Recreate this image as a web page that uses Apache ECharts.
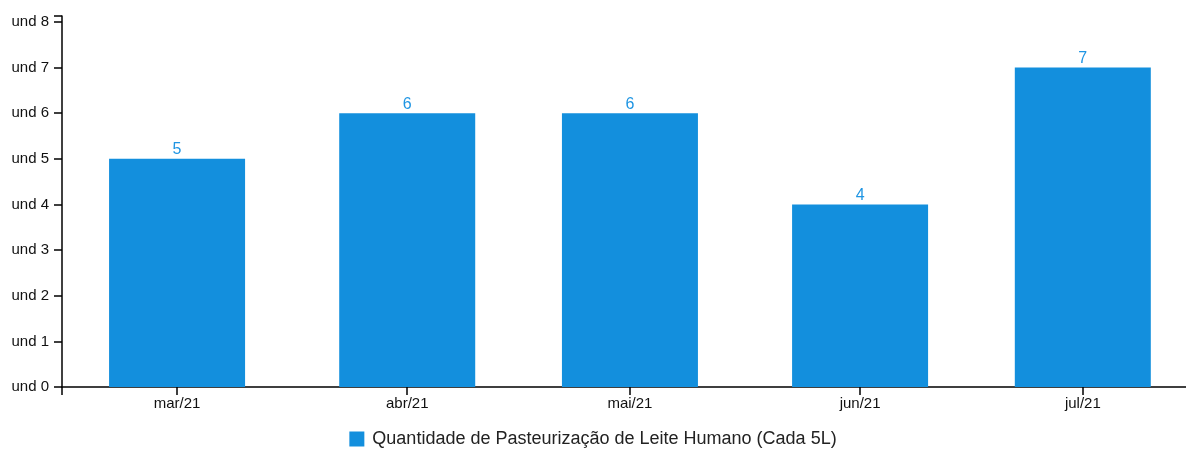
<!DOCTYPE html>
<html><head><meta charset="utf-8">
<script src="https://cdn.jsdelivr.net/npm/echarts@6/dist/echarts.min.js"></script>
<style>html,body{margin:0;padding:0;background:#fff}#c{width:1186px;height:450px}</style>
</head><body><div id="c"></div>
<script>
const months = ['2021-03-01','2021-04-01','2021-05-01','2021-06-01','2021-07-01'];
const monthLabels = ['mar/21','abr/21','mai/21','jun/21','jul/21'];
const values = [5, 6, 6, 4, 7];
const yTicks = [0,1,2,3,4,5,6,7,8];
const seriesName = 'Quantidade de Pasteurização de Leite Humano (Cada 5L)';

const DAY = 86400000;
// x positions in days since the first month (true calendar spacing)
const t0 = Date.parse(months[0] + 'T00:00:00Z');
const xs = months.map(m => (Date.parse(m + 'T00:00:00Z') - t0) / DAY);
const xMin = xs[0] - 15.5;
const xMax = xs[xs.length - 1] + 13.9;
const yMax = 8.13;
const labelByX = {};
xs.forEach((x, i) => labelByX[x] = monthLabels[i]);

const FONT = 'Liberation Sans, Arial, sans-serif';
const chart = echarts.init(document.getElementById('c'));
chart.setOption({
  animation: false,
  textStyle: { fontFamily: FONT },
  grid: { left: 62, right: 0, top: 16, bottom: 63, containLabel: false },
  legend: {
    top: 425, left: 'center', itemWidth: 15, itemHeight: 15, itemGap: 8,
    icon: 'rect',
    textStyle: { fontSize: 18, color: '#222', fontFamily: FONT, padding: [0, 0, 0, 3] },
    data: [seriesName]
  },
  xAxis: {
    type: 'value', min: xMin, max: xMax,
    axisLine: { onZero: false, lineStyle: { color: '#000', width: 1.5 } },
    axisTick: { show: true, length: 8, lineStyle: { color: '#000', width: 1.5 }, customValues: [xMin].concat(xs) },
    axisLabel: { customValues: xs, formatter: v => labelByX[v] || '', color: '#111', fontSize: 15, margin: 9 },
    splitLine: { show: false }
  },
  yAxis: {
    type: 'value', min: 0, max: yMax,
    axisLine: { show: true, onZero: false, lineStyle: { color: '#000', width: 1.5 } },
    axisTick: { show: true, length: 8, lineStyle: { color: '#000', width: 1.5 }, customValues: yTicks.concat([yMax]) },
    axisLabel: { customValues: yTicks, formatter: v => 'und ' + v, color: '#111', fontSize: 15, margin: 13 },
    splitLine: { show: false }
  },
  series: [{
    name: seriesName, type: 'bar', barWidth: 136,
    itemStyle: { color: '#138fdd' },
    label: { show: true, position: 'top', distance: 1, color: '#1f95e3', fontSize: 16 },
    data: xs.map((x, i) => [x, values[i]])
  }]
});
</script></body></html>
